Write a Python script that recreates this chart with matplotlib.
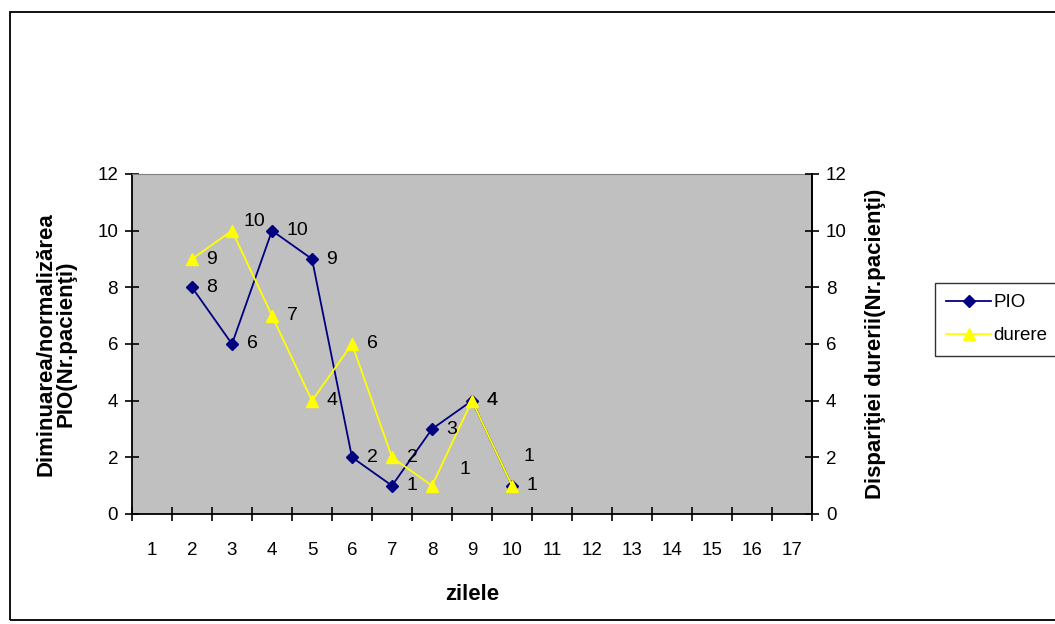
import numpy as np
import matplotlib.pyplot as plt
from matplotlib.patches import Rectangle

plt.rcParams['font.family'] = ['Liberation Sans', 'DejaVu Sans']

# Data
days = list(range(1, 18))
pio_days = [2, 3, 4, 5, 6, 7, 8, 9, 10]
pio = [8, 6, 10, 9, 2, 1, 3, 4, 1]
durere_days = [2, 3, 4, 5, 6, 7, 8, 9, 10]
durere = [9, 10, 7, 4, 6, 2, 1, 4, 1]
yticks = [0, 2, 4, 6, 8, 10, 12]

fig = plt.figure(figsize=(10.55, 6.24), dpi=100)
ax = fig.add_axes([132/1055, 1-514/624, 680/1055, 340/624])

# outer frame round the chart
fig.patches.append(Rectangle((10/1055, 4/624), 1.2, 608/624, transform=fig.transFigure,
                             fill=False, edgecolor='black', lw=1.3))

ax.set_facecolor('#C0C0C0')
ax.set_xlim(0.5, 17.5)
ax.set_ylim(0, 12)

ax.plot(pio_days, pio, color='#000080', lw=1.3, marker='D', ms=6,
        mfc='#000080', mec='#000080', label='PIO', zorder=3)
ax.plot(durere_days, durere, color='#FFFF00', lw=1.3, marker='^', ms=9,
        mfc='#FFFF00', mec='#FFFF00', label='durere', zorder=4)

# data labels (a few were moved by hand in the original)
def put_labels(xs, ys, extra):
    for i, (x, y) in enumerate(zip(xs, ys)):
        dx, dy = extra.get(i, (0, 0))
        ax.annotate(str(y), (x, y), xytext=(10.5 + dx, dy), textcoords='offset points',
                    ha='left', va='center', fontsize=14, zorder=5)

put_labels(pio_days, pio, {8: (-2, 21)})
put_labels(durere_days, durere, {1: (-2, 6.5), 6: (9, 11.5)})

# x axis: categories, ticks between them
ax.set_xticks(np.arange(0.5, 18.0, 1.0))
ax.set_xticklabels([])
ax.set_xticks(days, minor=True)
ax.set_xticklabels([str(d) for d in days], minor=True, fontsize=13.5)
ax.tick_params(axis='x', which='major', direction='inout', length=10, width=1.2)
ax.tick_params(axis='x', which='minor', length=0, pad=20)

ax.set_yticks(yticks)
ax.set_yticklabels([str(v) for v in yticks], fontsize=13.5)
ax.tick_params(axis='y', direction='inout', length=10, width=1.2, pad=5)

for s in ['left', 'bottom', 'right']:
    ax.spines[s].set_linewidth(1.3)
    ax.spines[s].set_color('black')
ax.spines['top'].set_color('#808080')

ax2 = ax.twinx()
ax2.set_ylim(0, 12)
ax2.set_yticks(yticks)
ax2.set_yticklabels([str(v) for v in yticks], fontsize=13.5)
ax2.tick_params(axis='y', direction='inout', length=10, width=1.2, pad=5)
for s in ['left', 'bottom', 'top']:
    ax2.spines[s].set_visible(False)
ax2.spines['right'].set_linewidth(1.3)

ax.set_xlabel('zilele', fontsize=16, fontweight='bold')
ax.xaxis.set_label_coords(0.5, -0.205)
ax.set_ylabel('Diminuarea/normalizărea\nPIO(Nr.pacienţi)', fontsize=16, fontweight='bold',
              linespacing=0.95)
ax.yaxis.set_label_coords(-0.082, 0.5)
ax2.set_ylabel('Dispariţiei durerii(Nr.pacienţi)', fontsize=16, fontweight='bold')
ax2.yaxis.set_label_coords(1.078, 0.5)

h, l = ax.get_legend_handles_labels()
leg = fig.legend(h, l, loc='upper left', bbox_to_anchor=(935/1055, 1-283/624),
                 fontsize=13.5, frameon=True, fancybox=False, edgecolor='black',
                 borderpad=0.6, handlelength=2.4, handletextpad=0.1, labelspacing=0.85,
                 borderaxespad=0)
leg.get_frame().set_linewidth(1.0)

fig.savefig('out.png', dpi=100)
